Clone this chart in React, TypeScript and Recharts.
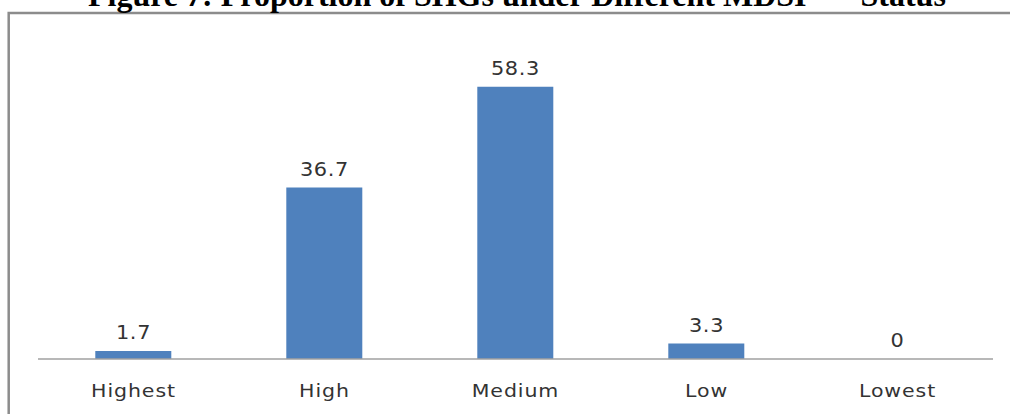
import { ComposedChart, Bar, Line, XAxis, YAxis, LabelList } from "recharts";

const categories = ["Highest", "High", "Medium", "Low", "Lowest"];
const shares = [1.7, 36.7, 58.3, 3.3, 0];
const titleText = "Figure 7: Proportion of SHGs under Different MDSI";
const titleSup = "**";
const titleTail = "Status";

const chartData = categories.map((name, i) => ({ name, share: shares[i] }));

const TEXT_FONT = "'DejaVu Sans', Verdana, sans-serif";

function CategoryTick(props: any) {
  const { x, y, payload } = props;
  return (
    <g transform={`translate(${x},${y}) scale(1.14,1)`}>
      <text
        x={0}
        y={0}
        dy="0.71em"
        textAnchor="middle"
        fill="#333"
        fontSize={18}
        letterSpacing={0.8}
        fontFamily={TEXT_FONT}
      >
        {payload.value}
      </text>
    </g>
  );
}

// labels hang off an invisible line so the zero bar still gets its "0"
function ValueLabel(props: any) {
  const { x, y, value } = props;
  return (
    <g transform={`translate(${Number(x)},${Number(y) - 12}) scale(1.1,1)`}>
      <text
        x={0}
        y={0}
        textAnchor="middle"
        fill="#333"
        fontSize={19}
        letterSpacing={0.6}
        fontFamily={TEXT_FONT}
      >
        {value}
      </text>
    </g>
  );
}

export default function App() {
  return (
    <div
      style={{
        position: "absolute",
        left: 0,
        top: 0,
        width: 1010,
        height: 414,
        overflow: "hidden",
        background: "#fff",
      }}
    >
      <svg
        width={1010}
        height={414}
        style={{ position: "absolute", left: 0, top: 0 }}
      >
        <rect
          x={8.7}
          y={13}
          width={1020}
          height={420}
          fill="none"
          stroke="#8c8c8c"
          strokeWidth={2.5}
        />
        <text
          x={88}
          y={6}
          fontFamily="'Liberation Serif', 'Times New Roman', serif"
          fontWeight="bold"
          fontSize={32}
          fill="#000"
        >
          {titleText}
          <tspan dy={-12} fontSize={20}>
            {titleSup}
          </tspan>
          <tspan dy={12} dx={34}>
            {titleTail}
          </tspan>
        </text>
      </svg>
      <div style={{ position: "absolute", left: 0, top: 0 }}>
        <ComposedChart
          width={1010}
          height={414}
          data={chartData}
          margin={{ top: 32, right: 17, bottom: 0, left: 38 }}
          barCategoryGap="30%"
        >
          <XAxis
            dataKey="name"
            height={55}
            axisLine={{ stroke: "#a0a0a0", strokeWidth: 1.5 }}
            tickLine={false}
            tickMargin={19}
            tick={<CategoryTick />}
            interval={0}
          />
          <YAxis hide domain={[0, 70]} />
          <Bar dataKey="share" fill="#4f81bd" isAnimationActive={false} />
          <Line
            dataKey="share"
            stroke="none"
            dot={false}
            activeDot={false}
            isAnimationActive={false}
          >
            <LabelList dataKey="share" content={<ValueLabel />} />
          </Line>
        </ComposedChart>
      </div>
    </div>
  );
}
